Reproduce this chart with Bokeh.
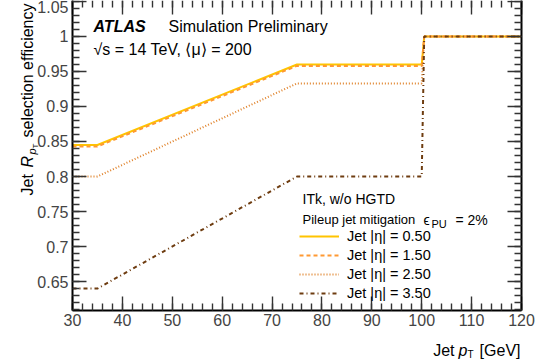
import math
from bokeh.plotting import figure
from bokeh.models import (Range1d, LinearAxis, SingleIntervalTicker, Label,
                          Legend, LegendItem)
from bokeh.embed import file_html
from bokeh.resources import INLINE

# ---- data -----------------------------------------------------------
jet_pt = [30, 35, 75, 100, 100.5, 120]
eff_eta050 = [0.845, 0.845, 0.960, 0.960, 1.0, 1.0]
eff_eta150 = [0.843, 0.843, 0.958, 0.958, 1.0, 1.0]
eff_eta250 = [0.800, 0.800, 0.933, 0.933, 1.0, 1.0]
eff_eta350 = [0.640, 0.640, 0.800, 0.800, 1.0, 1.0]
series_labels = ["Jet |η| = 0.50", "Jet |η| = 1.50", "Jet |η| = 2.50", "Jet |η| = 3.50"]
x_axis_limits = (30, 120)
y_axis_limits = (0.6086, 1.0514)

FONT = "Liberation Sans"
W, H = 547, 364
# pixel placement of the axes box inside the canvas
BOX_L, BOX_R, BOX_T, BOX_B = 72, 521, 0, 310

xs = (BOX_R - BOX_L) / (x_axis_limits[1] - x_axis_limits[0])
ys = (BOX_B - BOX_T) / (y_axis_limits[1] - y_axis_limits[0])
x_rng = Range1d(x_axis_limits[0] - BOX_L / xs, x_axis_limits[1] + (W - BOX_R) / xs)
y_rng = Range1d(y_axis_limits[0] - (H - BOX_B) / ys, y_axis_limits[1] + BOX_T / ys)

p = figure(width=W, height=H, output_backend="svg", toolbar_location=None,
           x_range=x_rng, y_range=y_rng, min_border=0,
           x_axis_location=None, y_axis_location=None)
p.grid.visible = False
p.outline_line_color = None
p.background_fill_color = "white"
p.border_fill_color = "white"

def style_axis(ax, labels=True):
    ax.major_tick_in = 14
    ax.major_tick_out = 0
    ax.minor_tick_in = 7
    ax.minor_tick_out = 0
    ax.major_tick_line_color = "#333333"
    ax.minor_tick_line_color = "#333333"
    ax.major_tick_line_width = 1.4
    ax.minor_tick_line_width = 1.4
    ax.axis_line_color = "black"
    ax.axis_line_width = 2
    ax.major_label_text_font = FONT
    ax.major_label_text_font_size = "16px"
    if not labels:
        ax.major_label_text_color = None

xt = lambda: SingleIntervalTicker(interval=10, num_minor_ticks=5)
yt = lambda: SingleIntervalTicker(interval=0.05, num_minor_ticks=5)

xb = LinearAxis(ticker=xt(), fixed_location=y_axis_limits[0], bounds=x_axis_limits)
style_axis(xb); xb.major_label_standoff = 3
xtop = LinearAxis(ticker=xt(), fixed_location=y_axis_limits[1], bounds=x_axis_limits)
style_axis(xtop, False); xtop.axis_line_color = None
yl = LinearAxis(ticker=yt(), fixed_location=x_axis_limits[0], bounds=y_axis_limits)
style_axis(yl); yl.major_label_standoff = 4
yl.major_label_overrides = {1.0: "1", 1: "1"}
yr = LinearAxis(ticker=yt(), fixed_location=x_axis_limits[1], bounds=y_axis_limits)
style_axis(yr, False)
p.add_layout(xb, "below")
p.add_layout(xtop, "above")
p.add_layout(yl, "left")
p.add_layout(yr, "right")

r1 = p.line(jet_pt, eff_eta050, line_color="#ffc400", line_width=2)
r2 = p.line(jet_pt, eff_eta150, line_color="#ff9933", line_width=2, line_dash="4 3")
r3 = p.line(jet_pt, eff_eta250, line_color="#e0822a", line_width=2, line_dash="1 2")
r4 = p.line(jet_pt, eff_eta350, line_color="#6e3c10", line_width=2, line_dash="4 3 1 3")

legend = Legend(items=[LegendItem(label=series_labels[i], renderers=[r])
                       for i, r in enumerate([r1, r2, r3, r4])],
                location=(299, H - 301), glyph_width=40, glyph_height=14,
                label_height=14, spacing=3, padding=0, margin=0,
                label_standoff=8, border_line_color=None,
                background_fill_alpha=0, label_text_font=FONT,
                label_text_font_size="14.5px", label_text_color="black")
p.add_layout(legend, "center")

def txt(cx, cy, text, size=16, style="normal", align="left", angle=0.0):
    p.add_layout(Label(x=cx, y=H - cy, x_units="screen", y_units="screen",
                       text=text, text_font=FONT, text_font_size=f"{size}px",
                       text_font_style=style, text_align=align,
                       text_baseline="alphabetic", angle=angle,
                       text_color="black"))

# top texts
txt(93, 26, "ATLAS", 16, "bold italic")
txt(168, 26, "Simulation Preliminary", 16)
txt(93, 49, "√s = 14 TeV, ⟨μ⟩ = 200", 16)

# legend header
txt(302, 198, "ITk, w/o HGTD", 14)
txt(302, 219, "Pileup jet mitigation", 13)
txt(423, 219, "ϵ", 14)
txt(431, 223, "PU", 11)
txt(455, 219, "= 2%", 14)

# x axis title
txt(454, 350, "Jet", 16, align="right")
txt(458, 350, "p", 16, "italic")
txt(467, 354, "T", 10)
txt(520, 350, "[GeV]", 16, align="right")

# y axis title (rotated)
A = math.pi / 2
txt(27, 195, "Jet", 16, angle=A)
txt(27, 167, "R", 16, "italic", angle=A)
txt(31, 154, "p", 11, "italic", angle=A)
txt(35, 148, "T", 8, angle=A)
txt(27, 137, "selection efficiency", 16, angle=A)

open("out.html", "w").write(file_html(p, INLINE))
